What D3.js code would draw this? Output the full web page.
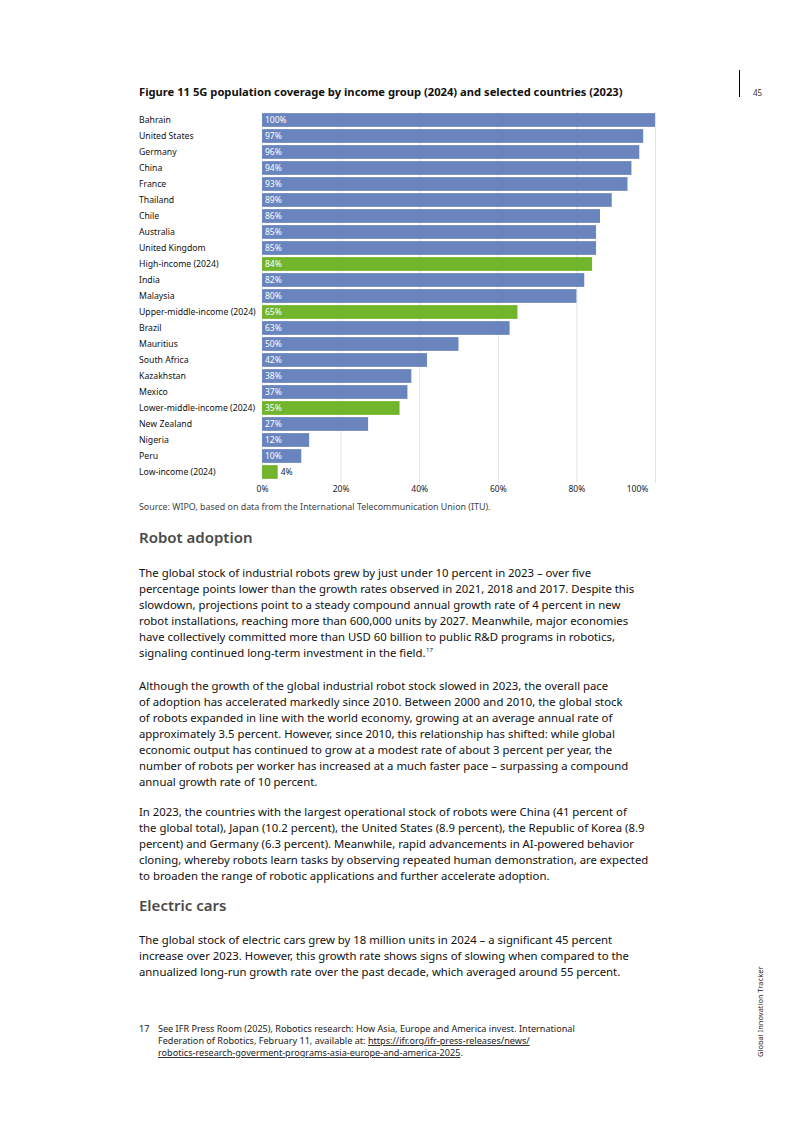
<!DOCTYPE html>
<html>
<head>
<meta charset="utf-8">
<script src="https://cdn.jsdelivr.net/npm/d3@7"></script>
<style>
  body { margin: 0; background: #fff; }
  svg { display: block; }
  text { font-family: "Noto Sans", sans-serif; }
</style>
</head>
<body>
<script>
// chart data
const countries = ['Bahrain', 'United States', 'Germany', 'China', 'France', 'Thailand', 'Chile',
  'Australia', 'United Kingdom', 'High-income (2024)', 'India', 'Malaysia',
  'Upper-middle-income (2024)', 'Brazil', 'Mauritius', 'South Africa', 'Kazakhstan', 'Mexico',
  'Lower-middle-income (2024)', 'New Zealand', 'Nigeria', 'Peru', 'Low-income (2024)'];
const coverage = [100, 97, 96, 94, 93, 89, 86, 85, 85, 84, 82, 80, 65, 63, 50, 42, 38, 37, 35, 27, 12, 10, 4];
const incomeGroups = ['High-income (2024)', 'Upper-middle-income (2024)', 'Lower-middle-income (2024)', 'Low-income (2024)'];
const xTicks = [0, 20, 40, 60, 80, 100];

const para1 = [
  'The global stock of industrial robots grew by just under 10 percent in 2023 – over five',
  'percentage points lower than the growth rates observed in 2021, 2018 and 2017. Despite this',
  'slowdown, projections point to a steady compound annual growth rate of 4 percent in new',
  'robot installations, reaching more than 600,000 units by 2027. Meanwhile, major economies',
  'have collectively committed more than USD 60 billion to public R&D programs in robotics,',
  'signaling continued long-term investment in the field.'
];
const para2 = [
  'Although the growth of the global industrial robot stock slowed in 2023, the overall pace',
  'of adoption has accelerated markedly since 2010. Between 2000 and 2010, the global stock',
  'of robots expanded in line with the world economy, growing at an average annual rate of',
  'approximately 3.5 percent. However, since 2010, this relationship has shifted: while global',
  'economic output has continued to grow at a modest rate of about 3 percent per year, the',
  'number of robots per worker has increased at a much faster pace – surpassing a compound',
  'annual growth rate of 10 percent.'
];
const para3 = [
  'In 2023, the countries with the largest operational stock of robots were China (41 percent of',
  'the global total), Japan (10.2 percent), the United States (8.9 percent), the Republic of Korea (8.9',
  'percent) and Germany (6.3 percent). Meanwhile, rapid advancements in AI-powered behavior',
  'cloning, whereby robots learn tasks by observing repeated human demonstration, are expected',
  'to broaden the range of robotic applications and further accelerate adoption.'
];
const para4 = [
  'The global stock of electric cars grew by 18 million units in 2024 – a significant 45 percent',
  'increase over 2023. However, this growth rate shows signs of slowing when compared to the',
  'annualized long-run growth rate over the past decade, which averaged around 55 percent.'
];
// footnote lines: [plain part, underlined part, trailing]
const footnote = [
  ['See IFR Press Room (2025), Robotics research: How Asia, Europe and America invest. International', '', ''],
  ['Federation of Robotics, February 11, available at: ', 'https://ifr.org/ifr-press-releases/news/', ''],
  ['', 'robotics-research-goverment-programs-asia-europe-and-america-2025', '.']
];

const W = 793, H = 1123;
const svg = d3.select('body').append('svg').attr('width', W).attr('height', H);

// page furniture
svg.append('line').attr('x1', 739.5).attr('x2', 739.5).attr('y1', 70).attr('y2', 97)
  .attr('stroke', '#000').attr('stroke-width', 1);
svg.append('text').attr('x', 753).attr('y', 96).attr('font-size', 8).attr('fill', '#333').text('45');
svg.append('text').attr('transform', 'translate(763,1057) rotate(-90)')
  .attr('font-size', 7.5).attr('fill', '#222').text('Global Innovation Tracker');

// title
svg.append('text').attr('x', 139).attr('y', 96).attr('font-size', 11.2).attr('font-weight', 700)
  .attr('fill', '#111')
  .text('Figure 11 5G population coverage by income group (2024) and selected countries (2023)');

// chart
const x = d3.scaleLinear().domain([0, 100]).range([262, 655]);
const y = d3.scaleBand().domain(countries).range([112, 480]).paddingInner(0.14).paddingOuter(0.07);

const g = svg.append('g');
g.selectAll('.grid').data(xTicks.slice(1)).join('line')
  .attr('x1', d => x(d) + 0.5).attr('x2', d => x(d) + 0.5)
  .attr('y1', 112).attr('y2', 483)
  .attr('stroke', '#e3e3e3').attr('stroke-width', 1);

const xAxis = d3.axisBottom(x).tickValues(xTicks).tickFormat(d => d + '%').tickSize(0).tickPadding(4);
const ax = g.append('g').attr('transform', 'translate(0,482)').call(xAxis);
ax.select('.domain').remove();
ax.selectAll('text').attr('font-size', 8.5).attr('fill', '#222').style('font-family', '"Noto Sans", sans-serif')
  .attr('dx', d => d === 100 ? -18 : 0);

const data = countries.map((c, i) => ({ name: c, value: coverage[i], group: incomeGroups.includes(c) }));

g.selectAll('.bar').data(data).join('rect')
  .attr('x', x(0)).attr('y', d => y(d.name))
  .attr('width', d => x(d.value) - x(0)).attr('height', y.bandwidth())
  .attr('fill', d => d.group ? '#72b52c' : '#6a84bd');

g.selectAll('.lab').data(data).join('text')
  .attr('x', d => x(d.value) - x(0) < 25 ? x(d.value) + 3 : x(0) + 3)
  .attr('y', d => y(d.name) + y.bandwidth() / 2 + 3.2)
  .attr('font-size', 8.5)
  .attr('fill', d => x(d.value) - x(0) < 25 ? '#222' : '#fff')
  .text(d => d.value + '%');

g.selectAll('.cat').data(data).join('text')
  .attr('x', 139).attr('y', d => y(d.name) + y.bandwidth() / 2 + 3.2)
  .attr('font-size', 8.7).attr('fill', '#111')
  .text(d => d.name);

svg.append('text').attr('x', 139).attr('y', 510).attr('font-size', 8.9).attr('fill', '#444')
  .text('Source: WIPO, based on data from the International Telecommunication Union (ITU).');

// text body
const bodySize = 11.35, lead = 16;
function heading(txt, yy) {
  svg.append('text').attr('x', 139).attr('y', yy).attr('font-size', 15).attr('font-weight', 600)
    .attr('fill', '#4a4a4a').text(txt);
}
function para(lines, yy) {
  svg.append('g').selectAll('text').data(lines).join('text')
    .attr('x', 139).attr('y', (d, i) => yy + i * lead)
    .attr('font-size', bodySize).attr('fill', '#111')
    .text(d => d);
}
heading('Robot adoption', 543);
para(para1, 577);
// footnote marker after the last line of para 1
const tmp = svg.append('text').attr('font-size', bodySize).attr('opacity', 0).text(para1[para1.length - 1]);
const lw = tmp.node().getComputedTextLength();
tmp.remove();
svg.append('text').attr('x', 139 + lw + 0.5).attr('y', 577 + 5 * lead - 5)
  .attr('font-size', 6).attr('fill', '#111').text('17');
para(para2, 690);
para(para3, 816);
heading('Electric cars', 911);
para(para4, 944);

// footnote
svg.append('text').attr('x', 139).attr('y', 1032).attr('font-size', 9.1).attr('fill', '#222').text('17');
const fn = svg.append('g').selectAll('text').data(footnote).join('text')
  .attr('x', 158).attr('y', (d, i) => 1032 + i * 12)
  .attr('font-size', 9.1).attr('fill', '#222');
fn.append('tspan').text(d => d[0]);
fn.append('tspan').attr('text-decoration', 'underline').text(d => d[1]);
fn.append('tspan').text(d => d[2]);
</script>
</body>
</html>
